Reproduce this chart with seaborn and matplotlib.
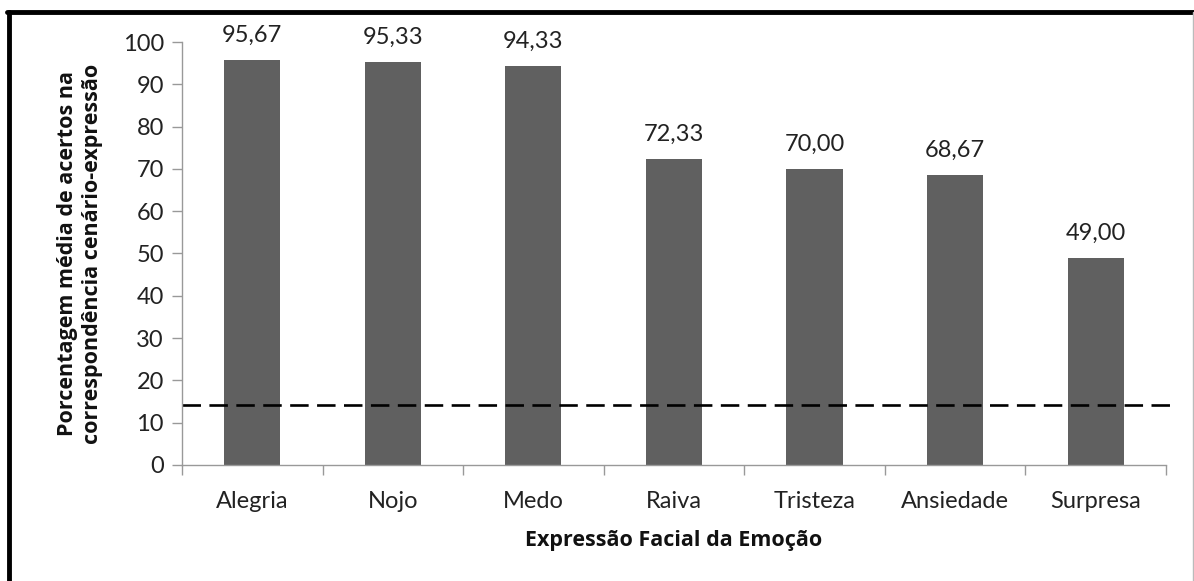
import matplotlib
matplotlib.use("Agg")
import matplotlib.pyplot as plt
import seaborn as sns
import pandas as pd
import numpy as np
from matplotlib.lines import Line2D

categories = ["Alegria", "Nojo", "Medo", "Raiva", "Tristeza", "Ansiedade", "Surpresa"]
values = [95.67, 95.33, 94.33, 72.33, 70.00, 68.67, 49.00]
chance_level = 14.29
y_ticks = [0, 10, 20, 30, 40, 50, 60, 70, 80, 90, 100]

sns.set_theme(style="white")
plt.rcParams['font.family'] = ['Lato', 'DejaVu Sans']

FS = 17
BOLD_FAMILY = ['Open Sans', 'DejaVu Sans']

df = pd.DataFrame({"Emoção": categories, "Valor": values})

fig = plt.figure(figsize=(11.94, 5.81), dpi=100)
ax = fig.add_axes([0.1524, 0.1997, 0.9765 - 0.1524, 0.9277 - 0.1997])

sns.barplot(data=df, x="Emoção", y="Valor", color="#606060", width=0.4,
            saturation=1, ax=ax, edgecolor="none")

ax.set_ylim(0, 100)
ax.set_xlim(-0.5, len(categories) - 0.5)
ax.set_yticks(y_ticks)
ax.set_yticklabels([str(t) for t in y_ticks], fontsize=FS, color="#222222")
ax.set_xticks(range(len(categories)))
ax.set_xticklabels(categories, fontsize=FS, color="#222222")
ax.set_xticks(np.arange(-0.5, len(categories), 1.0), minor=True)

ax.tick_params(axis="x", which="major", length=0, pad=19)
ax.tick_params(axis="x", which="minor", length=7, width=1, color="#999999", direction="out", bottom=True)
ax.tick_params(axis="y", which="major", length=7, width=1, color="#999999", direction="out", left=True, pad=6)

for s in ["top", "right"]:
    ax.spines[s].set_visible(False)
for s in ["left", "bottom"]:
    ax.spines[s].set_color("#999999")
    ax.spines[s].set_linewidth(1)

for i, v in enumerate(values):
    ax.annotate(f"{v:.2f}".replace(".", ","), xy=(i, v), xytext=(0, 13),
                textcoords="offset points", ha="center", va="baseline",
                fontsize=FS, color="#222222")

ax.plot([0, 1.01], [chance_level, chance_level], transform=ax.get_yaxis_transform(),
        color="black", linestyle=(0, (7, 3.2)), linewidth=1.9, clip_on=False)

ax.set_xlabel("Expressão Facial da Emoção", fontsize=15.5, fontweight="bold",
              family=BOLD_FAMILY, labelpad=13, color="#111111")
ax.set_ylabel("Porcentagem média de acertos na\ncorrespondência cenário-expressão",
              fontsize=15.5, fontweight="bold", family=BOLD_FAMILY, labelpad=14,
              linespacing=1.25, color="#111111")

# outer frame
fig.add_artist(Line2D([0.0075, 0.0075], [0.0, 0.979], transform=fig.transFigure,
                      color="black", linewidth=3.5))
fig.add_artist(Line2D([0.006, 1.0], [0.979, 0.979], transform=fig.transFigure,
                      color="black", linewidth=3.5))
fig.add_artist(Line2D([0.9992, 0.9992], [0.0, 0.979], transform=fig.transFigure,
                      color="#bbbbbb", linewidth=1))

fig.savefig("out.png", dpi=100)
